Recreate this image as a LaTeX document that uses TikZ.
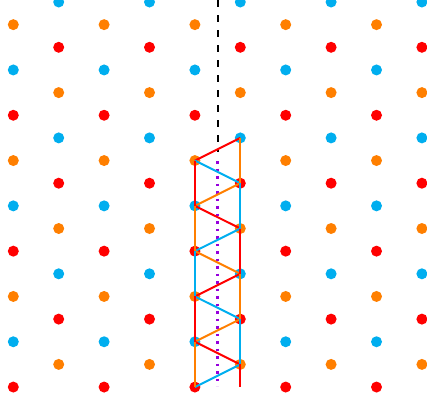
\documentclass[tikz,border=0pt]{standalone}
\definecolor{cblue}{RGB}{0,174,239}
\definecolor{corange}{RGB}{255,127,0}
\definecolor{cred}{RGB}{255,0,0}
\definecolor{cpurple}{RGB}{150,0,220}
\begin{document}
\begin{tikzpicture}[x=1pt,y=-1pt,
  dot/.style={circle,inner sep=0pt,minimum size=11pt,fill=#1},
  bond/.style={#1,line width=2pt},
  axisdash/.style={black,line width=2pt,dash pattern=on 7pt off 8pt},
  axisdot/.style={cpurple,line width=2.6pt,dash pattern=on 2.6pt off 4.9pt},
]
\useasboundingbox (0,0) rectangle (427,402);
\clip (0,0) rectangle (427,402);
\foreach \k in {0,...,18}{
  \pgfmathtruncatemacro{\c}{mod(\k,3)}
  \pgfmathtruncatemacro{\p}{1-mod(\k,2)}
  \ifcase\c \def\col{cblue}\or \def\col{corange}\or \def\col{cred}\fi
  \foreach \m in {0,...,4}{
    \pgfmathtruncatemacro{\j}{2*\m+\p}
    \node[dot=\col] (d-\j-\k) at ({13.3+45.4*\j},{2+22.65*\k}) {};
  }
}
% axis lines
\coordinate (atop) at (217.6,0);
\coordinate (amid) at (217.6,152);
\coordinate (bstart) at (217.6,161);
\coordinate (bend) at (217.6,386);
\draw[axisdash] (atop) -- (amid);
\draw[axisdot] (bstart) -- (bend);
\coordinate (zend) at (d-5-16.center |- d-4-17.center);
% zigzag edges
\draw[bond=cred] (d-5-6.center) -- (d-4-7.center);
\draw[bond=cblue] (d-4-7.center) -- (d-5-8.center);
\draw[bond=corange] (d-5-8.center) -- (d-4-9.center);
\draw[bond=cred] (d-4-9.center) -- (d-5-10.center);
\draw[bond=cblue] (d-5-10.center) -- (d-4-11.center);
\draw[bond=corange] (d-4-11.center) -- (d-5-12.center);
\draw[bond=cred] (d-5-12.center) -- (d-4-13.center);
\draw[bond=cblue] (d-4-13.center) -- (d-5-14.center);
\draw[bond=corange] (d-5-14.center) -- (d-4-15.center);
\draw[bond=cred] (d-4-15.center) -- (d-5-16.center);
\draw[bond=cblue] (d-5-16.center) -- (d-4-17.center);
% vertical edges
\draw[bond=corange] (d-5-6.center) -- (d-5-8.center);
\draw[bond=cred] (d-4-7.center) -- (d-4-9.center);
\draw[bond=cblue] (d-5-8.center) -- (d-5-10.center);
\draw[bond=corange] (d-4-9.center) -- (d-4-11.center);
\draw[bond=cred] (d-5-10.center) -- (d-5-12.center);
\draw[bond=cblue] (d-4-11.center) -- (d-4-13.center);
\draw[bond=corange] (d-5-12.center) -- (d-5-14.center);
\draw[bond=cred] (d-4-13.center) -- (d-4-15.center);
\draw[bond=cblue] (d-5-14.center) -- (d-5-16.center);
\draw[bond=corange] (d-4-15.center) -- (d-4-17.center);
\draw[bond=cred] (d-5-16.center) -- (zend);
\end{tikzpicture}
\end{document}
